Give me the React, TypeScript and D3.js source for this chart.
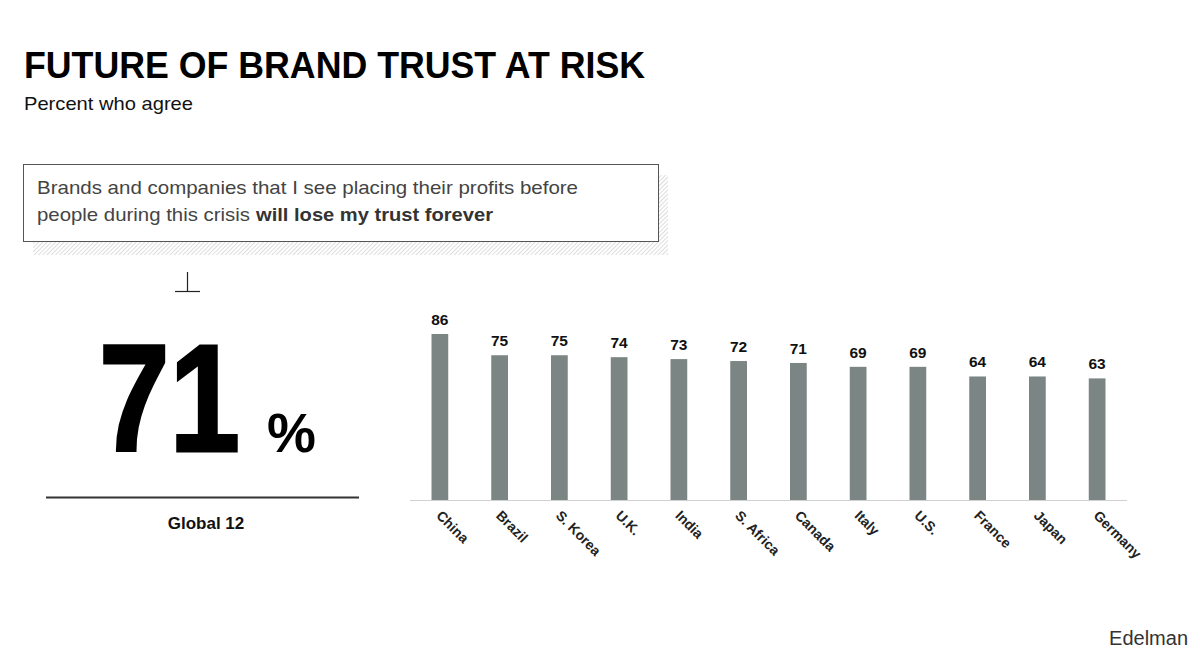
import React from "react";
import * as d3 from "d3";

const countries = ["China", "Brazil", "S. Korea", "U.K.", "India", "S. Africa", "Canada", "Italy", "U.S.", "France", "Japan", "Germany"];
const values = [86, 75, 75, 74, 73, 72, 71, 69, 69, 64, 64, 63];
const globalValue = 71;
const globalLabel = "Global 12";
const title = "FUTURE OF BRAND TRUST AT RISK";
const subtitle = "Percent who agree";
const quoteLine1 = "Brands and companies that I see placing their profits before";
const quoteLine2a = "people during this crisis ";
const quoteLine2b = "will lose my trust forever";
const source = "Edelman";

const W = 1200;
const H = 670;
const FONT = "'Liberation Sans', Arial, Helvetica, sans-serif";

export default function App() {
  const x = d3.scaleBand<string>().domain(countries).range([410, 1127]).paddingInner(0.72).paddingOuter(0.36);
  const y = d3.scaleLinear().domain([0, 100]).range([500, 307]);
  const barColor = "#7a8584";

  return (
    <svg width={W} height={H} style={{ position: "absolute", left: 0, top: 0, display: "block", background: "#fff" }} fontFamily={FONT}>
      <defs>
        <pattern id="hatch" width="3" height="3" patternUnits="userSpaceOnUse" patternTransform="rotate(45)">
          <line x1="0" y1="0" x2="0" y2="3" stroke="#cfcfcf" strokeWidth="1.4" />
        </pattern>
      </defs>
      <rect x={0} y={0} width={W} height={H} fill="#fff" />
      <text x={24} y={78} fontSize={36} fontWeight="bold" fill="#000" textLength={621} lengthAdjust="spacingAndGlyphs">{title}</text>
      <text x={24} y={110} fontSize={18.5} fill="#111" textLength={169} lengthAdjust="spacingAndGlyphs">{subtitle}</text>

      {/* quote box with hatched shadow */}
      <rect x={33} y={175} width={635} height={80} fill="url(#hatch)" />
      <rect x={23.5} y={164.5} width={635} height={77} fill="#fff" stroke="#555" strokeWidth={1} />
      <text x={37} y={194} fontSize={18.5} fill="#444" textLength={541} lengthAdjust="spacingAndGlyphs">{quoteLine1}</text>
      <text x={37} y={221} fontSize={18.5} fill="#444" textLength={213} lengthAdjust="spacingAndGlyphs">{quoteLine2a}</text>
      <text x={256} y={221} fontSize={18.5} fontWeight="bold" fill="#333" textLength={237} lengthAdjust="spacingAndGlyphs">{quoteLine2b}</text>

      {/* perpendicular symbol */}
      <line x1={187.5} y1={272} x2={187.5} y2={291} stroke="#222" strokeWidth={1.2} />
      <line x1={175} y1={291.5} x2={200} y2={291.5} stroke="#222" strokeWidth={1.2} />

      {/* big global number */}
      <text x={99} y={451} fontSize={152} fontWeight="bold" fill="#000" stroke="#000" strokeWidth={3} strokeLinejoin="miter" textLength={141} lengthAdjust="spacingAndGlyphs">{globalValue}</text>
      <text x={267} y={452} fontSize={55} fontWeight="bold" fill="#000">%</text>
      <line x1={46} x2={359} y1={497.5} y2={497.5} stroke="#333" strokeWidth={2} />
      <text x={206} y={529} fontSize={17} fontWeight="bold" fill="#111" textAnchor="middle">{globalLabel}</text>

      {/* bars */}
      <line x1={410} x2={1127} y1={500.5} y2={500.5} stroke="#d0d0d0" strokeWidth={1} />
      {countries.map((c, i) => {
        const bx = x(c)!;
        const cx = bx + x.bandwidth() / 2;
        return (
          <g key={c}>
            <rect x={bx} y={y(values[i])} width={x.bandwidth()} height={y(0) - y(values[i])} fill={barColor} />
            <text x={cx} y={y(values[i]) - 9} fontSize={15.5} fontWeight="bold" fill="#111" textAnchor="middle">{values[i]}</text>
            <text transform={`translate(${cx - 1},${513}) rotate(45)`} fontSize={14} fontWeight="bold" fill="#222" dy="0.35em">{c}</text>
          </g>
        );
      })}

      <text x={1188} y={645} fontSize={20} fill="#333" textAnchor="end">{source}</text>
    </svg>
  );
}
